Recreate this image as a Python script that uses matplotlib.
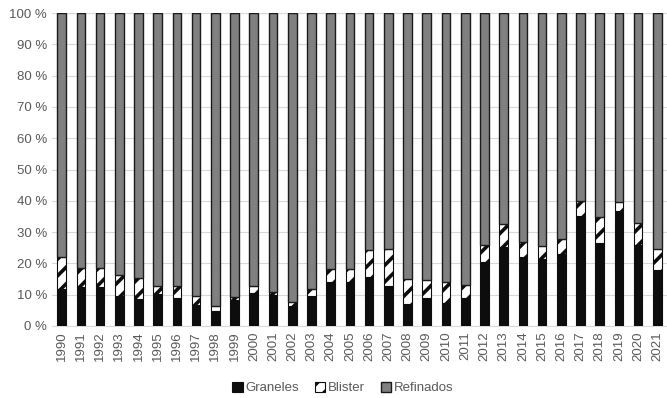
import matplotlib
matplotlib.use("Agg")
import matplotlib.pyplot as plt
import numpy as np

plt.rcParams["font.family"] = ["Liberation Sans", "DejaVu Sans"]
plt.rcParams["hatch.linewidth"] = 2.6

years = [str(y) for y in range(1990, 2022)]
graneles = [11.7, 12.4, 12.4, 9.5, 8.5, 10.3, 9.0, 6.7, 4.8, 8.2,
            10.5, 9.8, 6.5, 9.7, 14.0, 14.0, 15.6, 12.7, 6.9, 9.0,
            7.3, 8.9, 20.4, 25.2, 22.0, 21.5, 22.9, 35.3, 26.5, 36.7,
            26.0, 18.0]
totals_gb = [22.2, 18.4, 18.5, 16.4, 15.2, 12.8, 12.8, 9.6, 6.5, 9.3,
             12.7, 11.0, 7.6, 11.7, 18.1, 18.1, 24.3, 24.6, 14.9, 14.8,
             14.1, 13.2, 26.0, 32.6, 26.8, 25.5, 27.9, 40.0, 34.9, 39.5,
             32.8, 24.6]
blister = [t - g for t, g in zip(totals_gb, graneles)]
refinados = [100 - t for t in totals_gb]

fig = plt.figure(figsize=(6.67, 3.98), dpi=100)
ax = fig.add_axes([0.078, 0.181, 0.922, 0.786])

x = np.arange(len(years))
w = 0.45
ax.bar(x, graneles, w, color="#0d0d0d", edgecolor="#0d0d0d", linewidth=0.8,
       label="Graneles", zorder=3)
ax.bar(x, blister, w, bottom=graneles, color="white", edgecolor="#0d0d0d",
       hatch="//", linewidth=0.8, label="Blister", zorder=3)
ax.bar(x, refinados, w, bottom=totals_gb, color="#808080", edgecolor="#1a1a1a",
       linewidth=1.0, label="Refinados", zorder=3)

ax.set_xlim(-0.5, len(years) - 0.5)
ax.set_ylim(0, 100)
ax.set_yticks(np.arange(0, 101, 10))
ax.set_yticklabels([f"{v} %" for v in range(0, 101, 10)])
ax.set_xticks(x)
ax.set_xticklabels(years, rotation=90)
ax.tick_params(axis="both", length=0, labelsize=9.5, colors="#595959")
ax.tick_params(axis="x", pad=4)

ax.yaxis.grid(True, color="#d9d9d9", linewidth=0.8)
ax.set_axisbelow(True)
for s in ["top", "right", "left"]:
    ax.spines[s].set_visible(False)
ax.spines["bottom"].set_color("#d9d9d9")

ax.legend(loc="center", bbox_to_anchor=(0.473, -0.198), ncol=3,
          frameon=False, fontsize=9.5, handlelength=0.8, handleheight=0.8,
          handletextpad=0.2, columnspacing=1.2, labelcolor="#595959")

fig.savefig("out.png", dpi=100)
